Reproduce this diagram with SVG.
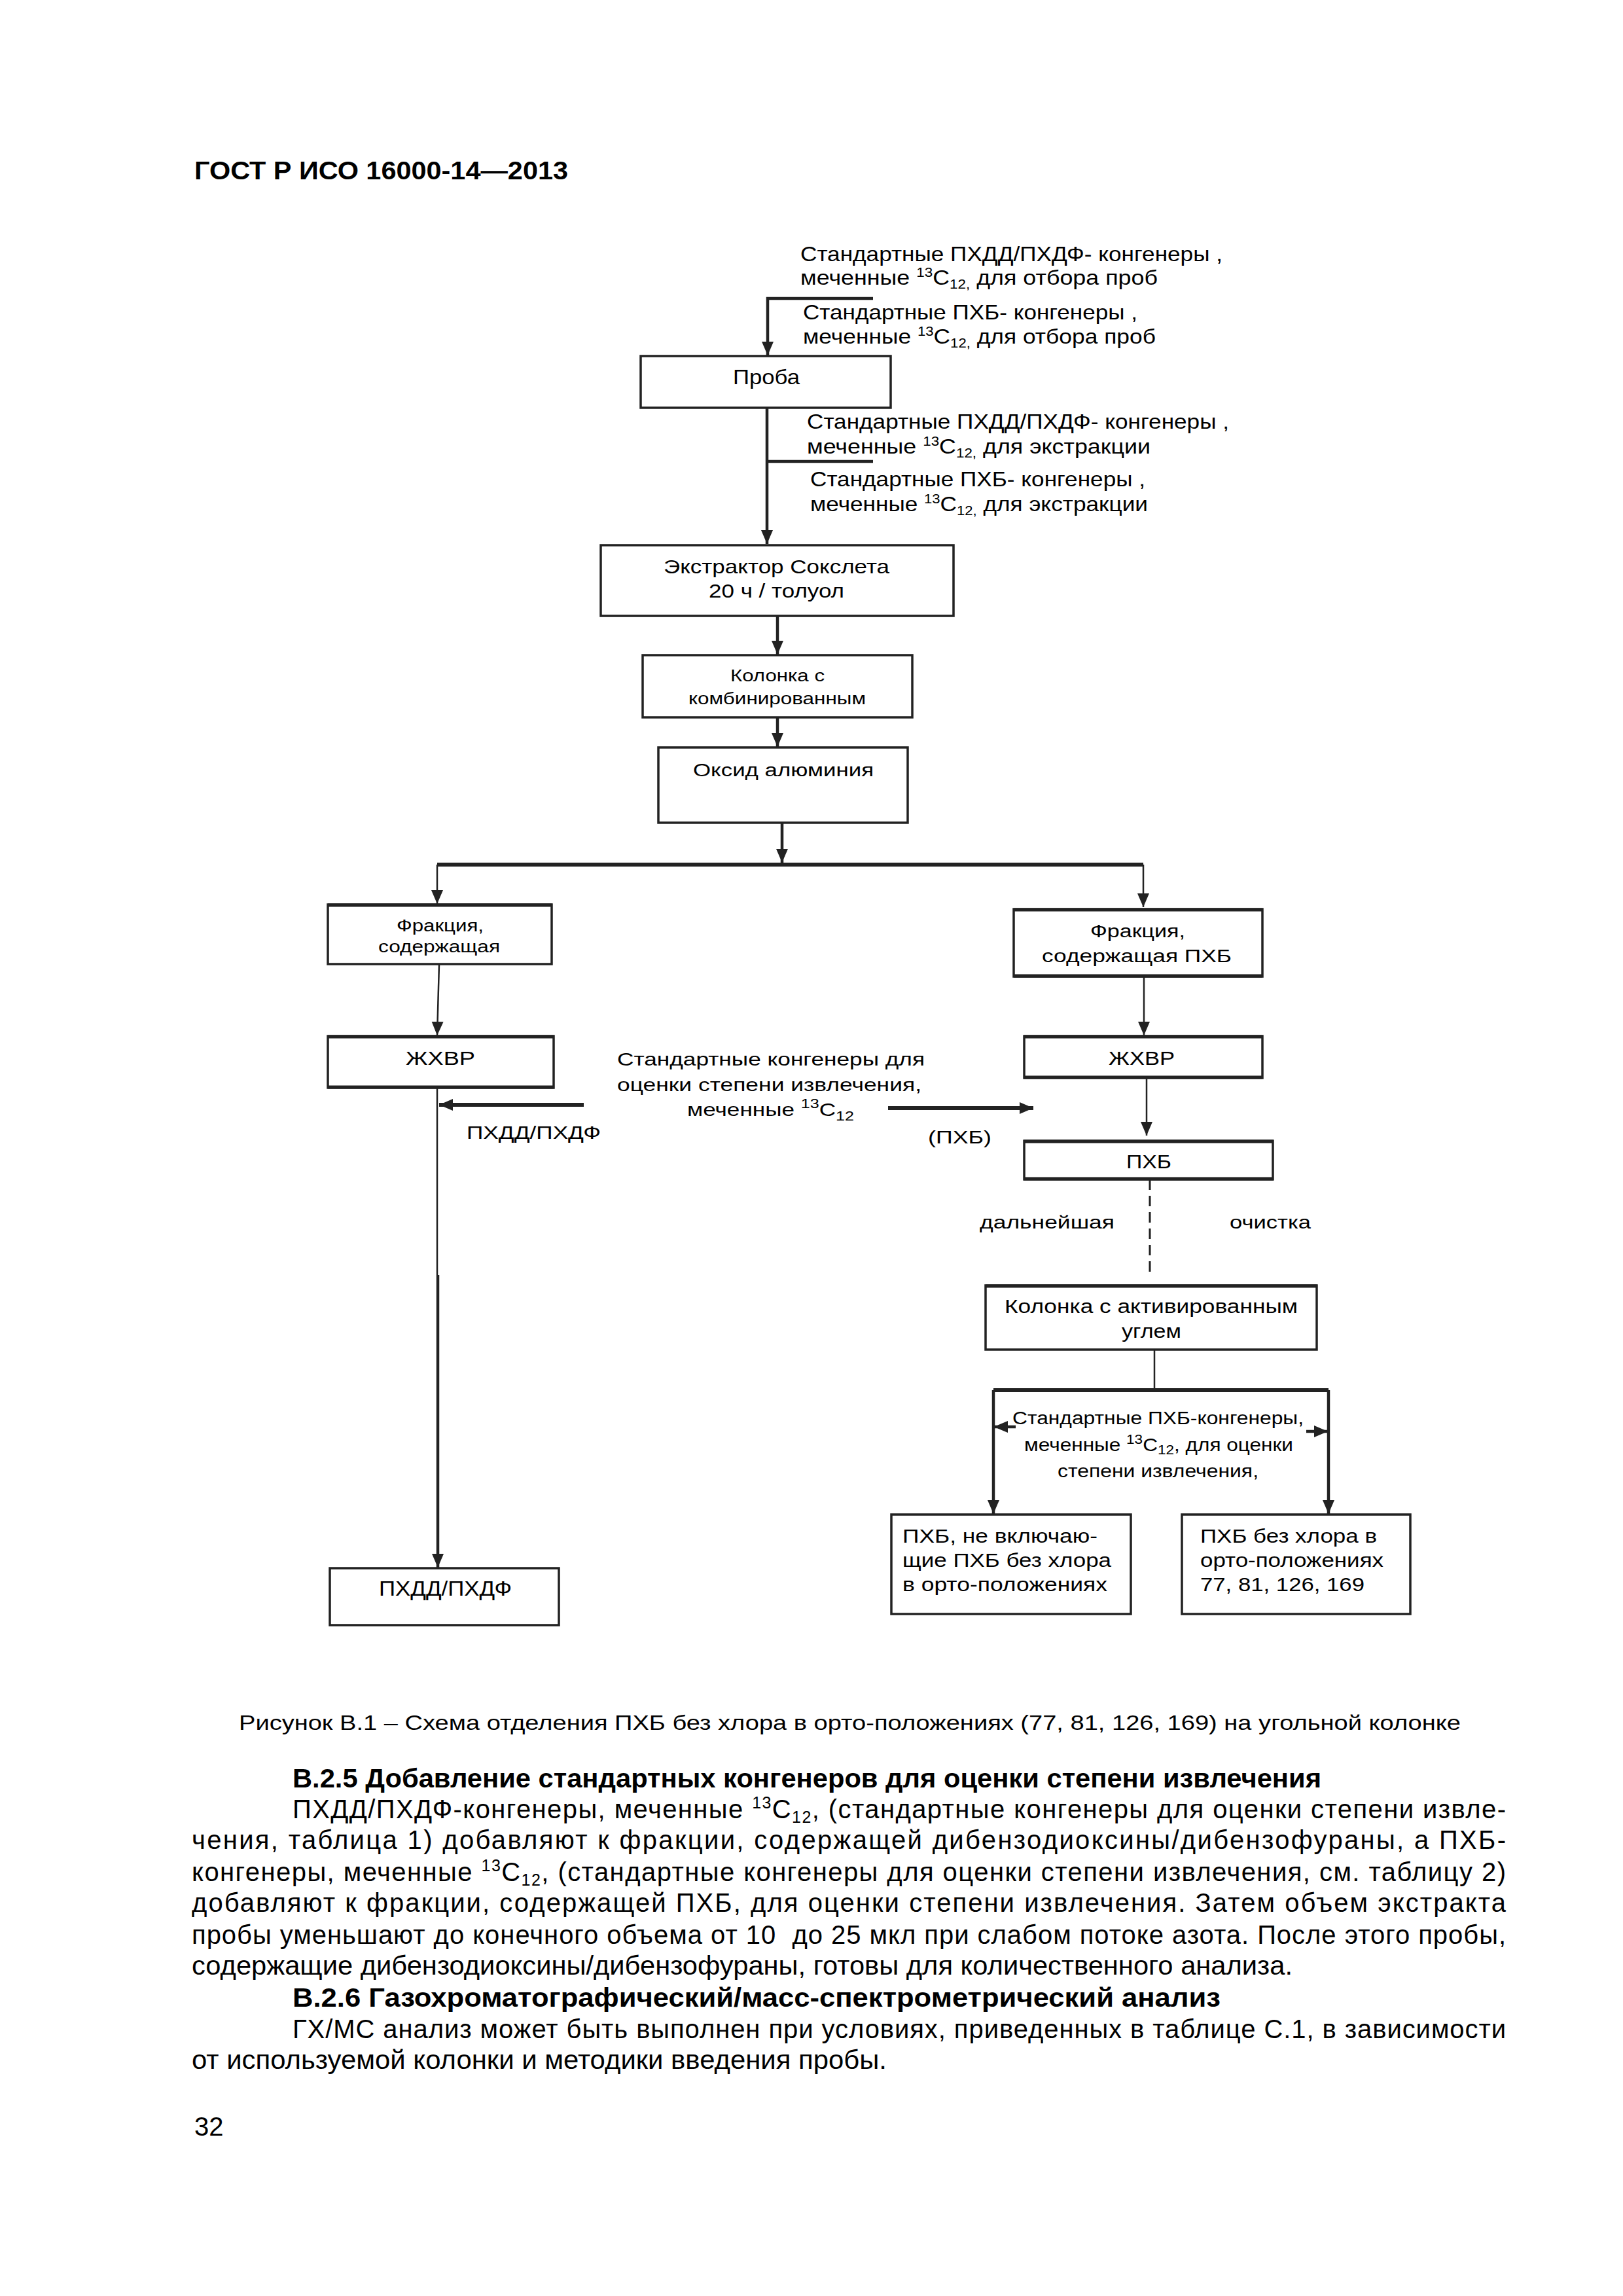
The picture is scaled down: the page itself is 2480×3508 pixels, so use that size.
<svg xmlns="http://www.w3.org/2000/svg" width="2480" height="3508" viewBox="0 0 2480 3508">
<style>
text{font-family:"Liberation Sans",Arial,sans-serif;fill:#000}
.b{font-weight:bold}
.t32{font-size:32px}
.t30{font-size:30px}
.t28{font-size:28px}
.t26{font-size:26px}
.body{font-size:40px}
.box{fill:#fff;stroke:#222;stroke-width:3.5}
.edge{fill:none;stroke:#222;stroke-width:2.5}
.thick{fill:none;stroke:#222;stroke-width:4.5}
.bar{fill:none;stroke:#222;stroke-width:6}
.dash{fill:none;stroke:#222;stroke-width:3;stroke-dasharray:16 9}
.sup{font-size:20px}
</style>
<defs>
<marker id="ah" markerUnits="userSpaceOnUse" markerWidth="22" markerHeight="20" refX="21" refY="9" orient="auto">
<path d="M0,0 L21,9 L0,18 z" fill="#222"/>
</marker>
</defs>
<rect width="2480" height="3508" fill="#fff"/>

<text class="b" x="297" y="274" font-size="38" textLength="571" lengthAdjust="spacingAndGlyphs">ГОСТ Р ИСО 16000-14—2013</text>

<g id="connectors">
<polyline class="thick" points="1334,456 1173,456 1173,543" marker-end="url(#ah)"/>
<line class="thick" x1="1172" y1="623" x2="1172" y2="831" marker-end="url(#ah)"/>
<line class="thick" x1="1172" y1="705" x2="1334" y2="705"/>
<line class="thick" x1="1188" y1="941" x2="1188" y2="1000" marker-end="url(#ah)"/>
<line class="thick" x1="1188" y1="1096" x2="1188" y2="1141" marker-end="url(#ah)"/>
<line class="thick" x1="1195" y1="1257" x2="1195" y2="1318" marker-end="url(#ah)"/>
<line class="bar" x1="668" y1="1321" x2="1747" y2="1321"/>
<line class="edge" x1="668" y1="1321" x2="668" y2="1381" marker-end="url(#ah)"/>
<line class="edge" x1="1747" y1="1321" x2="1747" y2="1386" marker-end="url(#ah)"/>
<line class="edge" x1="671" y1="1473" x2="668" y2="1582" marker-end="url(#ah)"/>
<line class="edge" x1="1748" y1="1492" x2="1748" y2="1582" marker-end="url(#ah)"/>
<line class="edge" x1="668" y1="1662" x2="668" y2="1948"/>
<line class="thick" x1="669" y1="1948" x2="669" y2="2395" marker-end="url(#ah)"/>
<line class="edge" x1="1752" y1="1647" x2="1752" y2="1735" marker-end="url(#ah)"/>
<line class="bar" x1="892" y1="1688" x2="671" y2="1688" marker-end="url(#ah)"/>
<line class="bar" x1="1357" y1="1693" x2="1579" y2="1693" marker-end="url(#ah)"/>
<line class="dash" x1="1757" y1="1802" x2="1757" y2="1943"/>
<line class="edge" x1="1764" y1="2062" x2="1764" y2="2124"/>
<line class="bar" x1="1518" y1="2124" x2="2030" y2="2124"/>
<line class="thick" x1="1518" y1="2124" x2="1518" y2="2313" marker-end="url(#ah)"/>
<line class="thick" x1="2030" y1="2124" x2="2030" y2="2313" marker-end="url(#ah)"/>
<line class="thick" x1="1552" y1="2180" x2="1519" y2="2180" marker-end="url(#ah)"/>
<line class="thick" x1="1996" y1="2187" x2="2029" y2="2187" marker-end="url(#ah)"/>
</g>

<g id="label-top">
<text class="t32" x="1223" y="399" textLength="645" lengthAdjust="spacingAndGlyphs">Стандартные ПХДД/ПХДФ- конгенеры ,</text>
<text class="t32" x="1223" y="435" textLength="546" lengthAdjust="spacingAndGlyphs">меченные <tspan class="sup" dy="-12">13</tspan><tspan dy="12">C</tspan><tspan class="sup" dy="6">12,</tspan><tspan dy="-6"> для отбора проб</tspan></text>
<text class="t32" x="1227" y="488" textLength="511" lengthAdjust="spacingAndGlyphs">Стандартные ПХБ- конгенеры ,</text>
<text class="t32" x="1227" y="525" textLength="539" lengthAdjust="spacingAndGlyphs">меченные <tspan class="sup" dy="-12">13</tspan><tspan dy="12">C</tspan><tspan class="sup" dy="6">12,</tspan><tspan dy="-6"> для отбора проб</tspan></text>
</g>

<g id="label-extract">
<text class="t32" x="1233" y="655" textLength="645" lengthAdjust="spacingAndGlyphs">Стандартные ПХДД/ПХДФ- конгенеры ,</text>
<text class="t32" x="1233" y="693" textLength="525" lengthAdjust="spacingAndGlyphs">меченные <tspan class="sup" dy="-12">13</tspan><tspan dy="12">C</tspan><tspan class="sup" dy="6">12,</tspan><tspan dy="-6"> для экстракции</tspan></text>
<text class="t32" x="1238" y="743" textLength="512" lengthAdjust="spacingAndGlyphs">Стандартные ПХБ- конгенеры ,</text>
<text class="t32" x="1238" y="781" textLength="516" lengthAdjust="spacingAndGlyphs">меченные <tspan class="sup" dy="-12">13</tspan><tspan dy="12">C</tspan><tspan class="sup" dy="6">12,</tspan><tspan dy="-6"> для экстракции</tspan></text>
</g>

<g id="node-proba">
<rect class="box" x="979" y="544" width="382" height="79"/>
<text class="t32" x="1120" y="587" textLength="102" lengthAdjust="spacingAndGlyphs">Проба</text>
</g>

<g id="node-soxhlet">
<rect class="box" x="918" y="833" width="539" height="108"/>
<text class="t30" x="1014" y="876" textLength="345" lengthAdjust="spacingAndGlyphs">Экстрактор Сокслета</text>
<text class="t30" x="1083" y="913" textLength="207" lengthAdjust="spacingAndGlyphs">20 ч / толуол</text>
</g>

<g id="node-column-combined">
<rect class="box" x="982" y="1001" width="412" height="95"/>
<text class="t26" x="1116" y="1041" textLength="144" lengthAdjust="spacingAndGlyphs">Колонка с</text>
<text class="t26" x="1052" y="1076" textLength="271" lengthAdjust="spacingAndGlyphs">комбинированным</text>
</g>

<g id="node-alumina">
<rect class="box" x="1006" y="1142" width="381" height="115"/>
<text class="t28" x="1059" y="1186" textLength="276" lengthAdjust="spacingAndGlyphs">Оксид алюминия</text>
</g>

<g id="node-fraction-left">
<rect class="box" x="501" y="1382" width="342" height="91"/>
<line x1="501" y1="1383" x2="843" y2="1383" stroke="#222" stroke-width="5"/>
<text class="t26" x="606" y="1423" textLength="133" lengthAdjust="spacingAndGlyphs">Фракция,</text>
<text class="t26" x="578" y="1455" textLength="186" lengthAdjust="spacingAndGlyphs">содержащая</text>
</g>

<g id="node-fraction-right">
<rect class="box" x="1549" y="1389" width="380" height="103"/>
<line x1="1549" y1="1390" x2="1929" y2="1390" stroke="#222" stroke-width="5"/>
<line x1="1549" y1="1491" x2="1929" y2="1491" stroke="#222" stroke-width="5"/>
<text class="t28" x="1666" y="1432" textLength="145" lengthAdjust="spacingAndGlyphs">Фракция,</text>
<text class="t28" x="1592" y="1470" textLength="290" lengthAdjust="spacingAndGlyphs">содержащая ПХБ</text>
</g>

<g id="node-hplc-left">
<rect class="box" x="501" y="1583" width="345" height="79"/>
<line x1="501" y1="1584" x2="846" y2="1584" stroke="#222" stroke-width="5"/>
<line x1="501" y1="1661" x2="846" y2="1661" stroke="#222" stroke-width="5"/>
<text class="t30" x="620" y="1627" textLength="106" lengthAdjust="spacingAndGlyphs">ЖХВР</text>
</g>

<g id="node-hplc-right">
<rect class="box" x="1565" y="1583" width="364" height="64"/>
<line x1="1565" y1="1584" x2="1929" y2="1584" stroke="#222" stroke-width="5"/>
<line x1="1565" y1="1646" x2="1929" y2="1646" stroke="#222" stroke-width="5"/>
<text class="t30" x="1694" y="1627" textLength="101" lengthAdjust="spacingAndGlyphs">ЖХВР</text>
</g>

<g id="label-recovery">
<text class="t28" x="943" y="1628" textLength="470" lengthAdjust="spacingAndGlyphs">Стандартные конгенеры для</text>
<text class="t28" x="943" y="1667" textLength="465" lengthAdjust="spacingAndGlyphs">оценки степени извлечения,</text>
<text class="t28" x="1050" y="1705" textLength="255" lengthAdjust="spacingAndGlyphs">меченные <tspan class="sup" dy="-12">13</tspan><tspan dy="12">C</tspan><tspan class="sup" dy="7">12</tspan></text>
<text class="t28" x="713" y="1740" textLength="205" lengthAdjust="spacingAndGlyphs">ПХДД/ПХДФ</text>
<text class="t28" x="1418" y="1747" textLength="97" lengthAdjust="spacingAndGlyphs">(ПХБ)</text>
</g>

<g id="node-pcb">
<rect class="box" x="1565" y="1743" width="380" height="59"/>
<line x1="1565" y1="1744" x2="1945" y2="1744" stroke="#222" stroke-width="5"/>
<line x1="1565" y1="1801" x2="1945" y2="1801" stroke="#222" stroke-width="5"/>
<text class="t30" x="1721" y="1785" textLength="69" lengthAdjust="spacingAndGlyphs">ПХБ</text>
</g>

<g id="label-cleanup">
<text class="t28" x="1497" y="1877" textLength="206" lengthAdjust="spacingAndGlyphs">дальнейшая</text>
<text class="t28" x="1879" y="1877" textLength="124" lengthAdjust="spacingAndGlyphs">очистка</text>
</g>

<g id="node-carbon-column">
<rect class="box" x="1506" y="1964" width="506" height="98"/>
<line x1="1506" y1="1965" x2="2012" y2="1965" stroke="#222" stroke-width="5"/>
<text class="t30" x="1535" y="2006" textLength="448" lengthAdjust="spacingAndGlyphs">Колонка с активированным</text>
<text class="t30" x="1714" y="2044" textLength="91" lengthAdjust="spacingAndGlyphs">углем</text>
</g>

<g id="label-pcb-standards">
<text class="t28" x="1547" y="2176" textLength="445" lengthAdjust="spacingAndGlyphs">Стандартные ПХБ-конгенеры,</text>
<text class="t28" x="1565" y="2217" textLength="411" lengthAdjust="spacingAndGlyphs">меченные <tspan class="sup" dy="-11">13</tspan><tspan dy="11">C</tspan><tspan class="sup" dy="5">12</tspan><tspan dy="-5">, для оценки</tspan></text>
<text class="t28" x="1616" y="2257" textLength="307" lengthAdjust="spacingAndGlyphs">степени извлечения,</text>
</g>

<g id="node-pcb-ortho">
<rect class="box" x="1362" y="2314" width="366" height="152"/>
<text class="t30" x="1379" y="2357" textLength="298" lengthAdjust="spacingAndGlyphs">ПХБ, не включаю-</text>
<text class="t30" x="1379" y="2394" textLength="319" lengthAdjust="spacingAndGlyphs">щие ПХБ без хлора</text>
<text class="t30" x="1379" y="2431" textLength="313" lengthAdjust="spacingAndGlyphs">в орто-положениях</text>
</g>

<g id="node-pcb-non-ortho">
<rect class="box" x="1806" y="2314" width="349" height="152"/>
<text class="t30" x="1834" y="2357" textLength="270" lengthAdjust="spacingAndGlyphs">ПХБ без хлора в</text>
<text class="t30" x="1834" y="2394" textLength="280" lengthAdjust="spacingAndGlyphs">орто-положениях</text>
<text class="t30" x="1834" y="2431" textLength="251" lengthAdjust="spacingAndGlyphs">77, 81, 126, 169</text>
</g>

<g id="node-pcdd-pcdf">
<rect class="box" x="504" y="2396" width="350" height="87"/>
<text class="t32" x="579" y="2438" textLength="203" lengthAdjust="spacingAndGlyphs">ПХДД/ПХДФ</text>
</g>

<text class="t32" x="365" y="2643" textLength="1867" lengthAdjust="spacingAndGlyphs">Рисунок В.1 – Схема отделения ПХБ без хлора в орто-положениях (77, 81, 126, 169) на угольной колонке</text>

<g id="body-text">
<text class="body b" x="447" y="2731" textLength="1572" lengthAdjust="spacingAndGlyphs">В.2.5 Добавление стандартных конгенеров для оценки степени извлечения</text>
<text class="body" x="447" y="2778" textLength="1854" lengthAdjust="spacing">ПХДД/ПХДФ-конгенеры, меченные <tspan font-size="25" dy="-15">13</tspan><tspan dy="15">C</tspan><tspan font-size="25" dy="7">12</tspan><tspan dy="-7">, (стандартные конгенеры для оценки степени извле-</tspan></text>
<text class="body" x="293" y="2825" textLength="2008" lengthAdjust="spacing">чения, таблица 1) добавляют к фракции, содержащей дибензодиоксины/дибензофураны, а ПХБ-</text>
<text class="body" x="293" y="2874" textLength="2008" lengthAdjust="spacing">конгенеры, меченные <tspan font-size="25" dy="-15">13</tspan><tspan dy="15">C</tspan><tspan font-size="25" dy="7">12</tspan><tspan dy="-7">, (стандартные конгенеры для оценки степени извлечения, см. таблицу 2)</tspan></text>
<text class="body" x="293" y="2921" textLength="2008" lengthAdjust="spacing">добавляют к фракции, содержащей ПХБ, для оценки степени извлечения. Затем объем экстракта</text>
<text class="body" x="293" y="2970" textLength="2008" lengthAdjust="spacing">пробы уменьшают до конечного объема от 10&#160; до 25 мкл при слабом потоке азота. После этого пробы,</text>
<text class="body" x="293" y="3017" textLength="1682" lengthAdjust="spacingAndGlyphs">содержащие дибензодиоксины/дибензофураны, готовы для количественного анализа.</text>
<text class="body b" x="447" y="3066" textLength="1418" lengthAdjust="spacingAndGlyphs">В.2.6 Газохроматографический/масс-спектрометрический анализ</text>
<text class="body" x="447" y="3114" textLength="1854" lengthAdjust="spacing">ГХ/МС анализ может быть выполнен при условиях, приведенных в таблице С.1, в зависимости</text>
<text class="body" x="293" y="3161" textLength="1062" lengthAdjust="spacingAndGlyphs">от используемой колонки и методики введения пробы.</text>
<text class="body" x="297" y="3263">32</text>
</g>
</svg>
